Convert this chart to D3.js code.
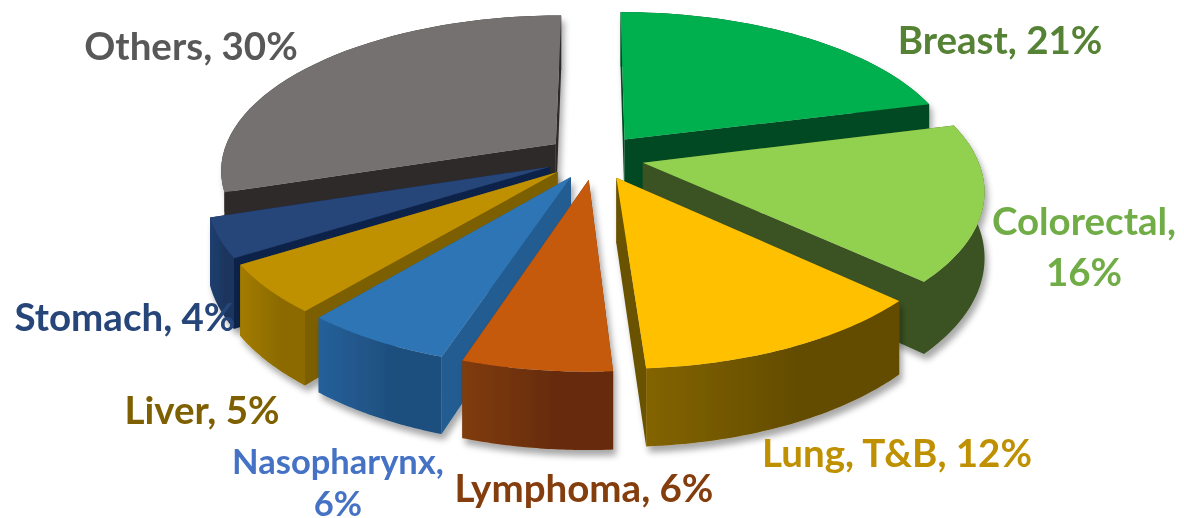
<!DOCTYPE html>
<html><head><meta charset="utf-8">
<script src="https://cdn.jsdelivr.net/npm/d3@7/dist/d3.min.js"></script>
<style>html,body{margin:0;background:#fff}svg{display:block}</style></head>
<body><svg id="c" width="1184" height="518"></svg>
<script>
const categories=["Breast","Colorectal","Lung, T&B","Lymphoma","Nasopharynx","Liver","Stomach","Others"];
const shares=[21,16,12,6,6,5,4,30];
const topColors=["#00B050","#92D050","#FFC000","#C55A11","#2E75B6","#BF9000","#264478","#767171"];
const wallLeft=["#004A23","#3B5323","#836400","#803C0D","#25609A","#A37C00","#203F70","#2F2C2C"];
const wallRight=["#004A23","#3B5323","#634C00","#672C07","#1E4F7E","#8C6B00","#1B365F","#2F2C2C"];
const cutColors=["#004A23","#3B5323","#6A5200","#6A3009","#225C90","#7B5E00","#10244A","#2F2C2C"];
const labelColors=["#548235","#70AD47","#BF9000","#843C0C","#4472C4","#7F6000","#264478","#595959"];
const labelLines=[["Breast, 21%"],["Colorectal,","16%"],["Lung, T&B, 12%"],["Lymphoma, 6%"],["Nasopharynx,","6%"],["Liver, 5%"],["Stomach, 4%"],["Others, 30%"]];
const labelX=[1000,1084,897,584,338,202,125,191];
const labelY=[54,235,467,502,474,424,331,60];
const labelSize=[38.5,38.5,38.5,38.5,34.5,38.5,38.5,38.5];
const labelGap=[0,51,0,0,42,0,0,0];
const drawOrder=[7,0,6,1,5,2,4,3];

const W=1184,H=518,cx=595,cy=157,Rx=334,Ry=153,persp=0.16,depth=64,explode=0.147;
const svg=d3.select("#c");
const defs=svg.append("defs");
const sh=defs.append("filter").attr("id","sh").attr("x","-10%").attr("y","-10%").attr("width","125%").attr("height","130%");
sh.append("feDropShadow").attr("dx",3).attr("dy",6).attr("stdDeviation",3).attr("flood-color","#000").attr("flood-opacity",0.34);
const tb=defs.append("filter").attr("id","tb");
tb.append("feGaussianBlur").attr("stdDeviation",0.45);

const pie=d3.pie().sort(null).value(d=>d);
const arcs=pie(shares);
const project=(u,v,z)=>{const s=1/(1-persp*v);return [cx+u*Rx*s,cy+(v*Ry+z)*s];};
const line=d3.line();
const slices=arcs.map((a,i)=>{
  const mid=(a.startAngle+a.endAngle)/2;
  const ox=Math.sin(mid)*explode, oy=-Math.cos(mid)*explode;
  const angles=d3.range(0,41).map(k=>a.startAngle+(a.endAngle-a.startAngle)*k/40);
  const rim=z=>angles.map(t=>project(ox+Math.sin(t),oy-Math.cos(t),z));
  const apex=z=>project(ox,oy,z);
  return {i,top:rim(0),bot:rim(depth),apex0:apex(0),apex1:apex(depth)};
});
slices.forEach(s=>{
  const xs=s.top.map(p=>p[0]);
  const g=defs.append("linearGradient").attr("id","w"+s.i).attr("gradientUnits","userSpaceOnUse")
    .attr("x1",d3.min(xs)).attr("x2",d3.max(xs)).attr("y1",0).attr("y2",0);
  g.append("stop").attr("offset",0).attr("stop-color",wallLeft[s.i]);
  g.append("stop").attr("offset",0.6).attr("stop-color",wallRight[s.i]);
  g.append("stop").attr("offset",1).attr("stop-color",wallRight[s.i]);
});
const groups=svg.append("g").selectAll("g").data(drawOrder.map(i=>slices[i])).join("g").attr("filter","url(#sh)");
groups.append("path").attr("fill",s=>cutColors[s.i]).attr("d",s=>line([s.apex0,s.top[0],s.bot[0],s.apex1])+"Z");
groups.append("path").attr("fill",s=>cutColors[s.i]).attr("d",s=>line([s.apex0,s.top[40],s.bot[40],s.apex1])+"Z");
groups.append("path").attr("fill",s=>`url(#w${s.i})`).attr("d",s=>line(s.top.concat(s.bot.slice().reverse()))+"Z");
groups.append("path").attr("fill",s=>topColors[s.i]).attr("d",s=>line([s.apex0].concat(s.top))+"Z");

const labels=svg.append("g").attr("filter","url(#tb)").attr("font-family","Lato, 'Open Sans', sans-serif").attr("font-weight",700).attr("text-anchor","middle");
categories.forEach((c,i)=>{
  const t=labels.append("text").attr("fill",labelColors[i]).attr("font-size",labelSize[i]);
  labelLines[i].forEach((l,j)=>t.append("tspan").attr("x",labelX[i]).attr("y",labelY[i]+j*labelGap[i]).text(l));
});
</script></body></html>
